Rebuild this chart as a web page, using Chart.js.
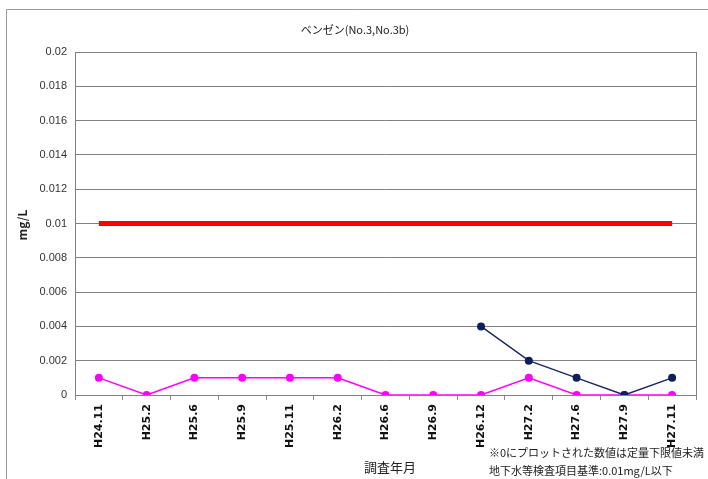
<!DOCTYPE html>
<html>
<head>
<meta charset="utf-8">
<script src="https://cdn.jsdelivr.net/npm/chart.js@4"></script>
<style>
  html, body { margin: 0; padding: 0; background: #fff; }
  #wrap { width: 708px; height: 479px; }
</style>
</head>
<body>
<div id="wrap"><canvas id="chart" width="708" height="479"></canvas></div>
<script>
// 調査年月
const labels = ["H24.11", "H25.2", "H25.6", "H25.9", "H25.11", "H26.2", "H26.6", "H26.9", "H26.12", "H27.2", "H27.6", "H27.9", "H27.11"];
const no3 = [0.001, 0, 0.001, 0.001, 0.001, 0.001, 0, 0, 0, 0.001, 0, 0, 0];
const no3b = [null, null, null, null, null, null, null, null, 0.004, 0.002, 0.001, 0, 0.001];
const kijun = [0.01, 0.01, 0.01, 0.01, 0.01, 0.01, 0.01, 0.01, 0.01, 0.01, 0.01, 0.01, 0.01];
const yTicks = [0, 0.002, 0.004, 0.006, 0.008, 0.01, 0.012, 0.014, 0.016, 0.018, 0.02];

const titleText = "ベンゼン(No.3,No.3b)";
const noteLines = ["※0にプロットされた数値は定量下限値未満", "地下水等検査項目基準:0.01mg/L以下"];
const jpFont = "'Noto Sans CJK JP', 'DejaVu Sans', sans-serif";

// 外枠・タイトル・注記
const decorPlugin = {
    id: "decor",
    beforeDraw(chart) {
        const ctx = chart.ctx;
        ctx.save();
        ctx.strokeStyle = "#999";
        ctx.lineWidth = 1;
        ctx.beginPath();
        ctx.moveTo(6.5, 479);
        ctx.lineTo(6.5, 9.5);
        ctx.lineTo(708, 9.5);
        ctx.stroke();
        ctx.restore();
    },
    afterDraw(chart) {
        const ctx = chart.ctx;
        const area = chart.chartArea;
        ctx.save();
        // plot frame
        ctx.strokeStyle = "#808080";
        ctx.lineWidth = 1;
        ctx.strokeRect(Math.round(area.left) + 0.5, Math.round(area.top) + 0.5,
            Math.round(area.right - area.left), Math.round(area.bottom - area.top));

        ctx.fillStyle = "#222";
        ctx.textAlign = "center";
        ctx.textBaseline = "middle";
        ctx.font = "11px " + jpFont;
        ctx.fillText(titleText, 355, 30);

        ctx.font = "13px " + jpFont;
        ctx.fillText("調査年月", 390, 467);

        ctx.textAlign = "left";
        ctx.font = "11px " + jpFont;
        ctx.fillText(noteLines[0], 489, 453);
        ctx.fillText(noteLines[1], 489, 471);

        ctx.save();
        ctx.translate(22, 225);
        ctx.rotate(-Math.PI / 2);
        ctx.textAlign = "center";
        ctx.font = "bold 12px " + jpFont;
        ctx.fillText("mg/L", 0, 0);
        ctx.restore();
        ctx.restore();
    }
};

new Chart(document.getElementById("chart").getContext("2d"), {
    type: "line",
    data: {
        labels: labels,
        datasets: [
            {
                label: "基準値",
                data: kijun,
                borderColor: "#ff0000",
                borderWidth: 5,
                pointRadius: 0,
                order: 3
            },
            {
                label: "No.3",
                data: no3,
                borderColor: "#ff00ff",
                backgroundColor: "#ff00ff",
                borderWidth: 1.5,
                pointRadius: 4,
                pointBorderWidth: 0,
                order: 2
            },
            {
                label: "No.3b",
                data: no3b,
                borderColor: "#1a2a5e",
                backgroundColor: "#0d1f5c",
                borderWidth: 1.5,
                pointRadius: 4,
                pointBorderWidth: 0,
                order: 1
            }
        ]
    },
    options: {
        responsive: false,
        animation: false,
        layout: { padding: { top: 52, right: 12, left: 0, bottom: 0 } },
        plugins: {
            legend: { display: false },
            tooltip: { enabled: false }
        },
        scales: {
            x: {
                offset: true,
                grid: {
                    offset: true,
                    drawOnChartArea: false,
                    tickLength: 5,
                    color: "#888"
                },
                border: { color: "#808080" },
                ticks: {
                    minRotation: 90,
                    maxRotation: 90,
                    autoSkip: false,
                    color: "#111",
                    padding: 4,
                    font: { family: "'DejaVu Sans', sans-serif", size: 11, weight: "bold" }
                },
                afterFit(scale) { scale.height = 84; }
            },
            y: {
                min: 0,
                max: 0.02,
                afterBuildTicks(scale) { scale.ticks = yTicks.map(v => ({ value: v })); },
                grid: { color: "#808080", drawTicks: false, lineWidth: 1 },
                border: { display: false },
                ticks: {
                    color: "#333",
                    padding: 8,
                    font: { family: "'Liberation Sans Narrow', 'Liberation Sans', sans-serif", size: 11 },
                    callback: v => String(+v.toFixed(3))
                },
                afterFit(scale) { scale.width = 75; }
            }
        }
    },
    plugins: [decorPlugin]
});
</script>
</body>
</html>
